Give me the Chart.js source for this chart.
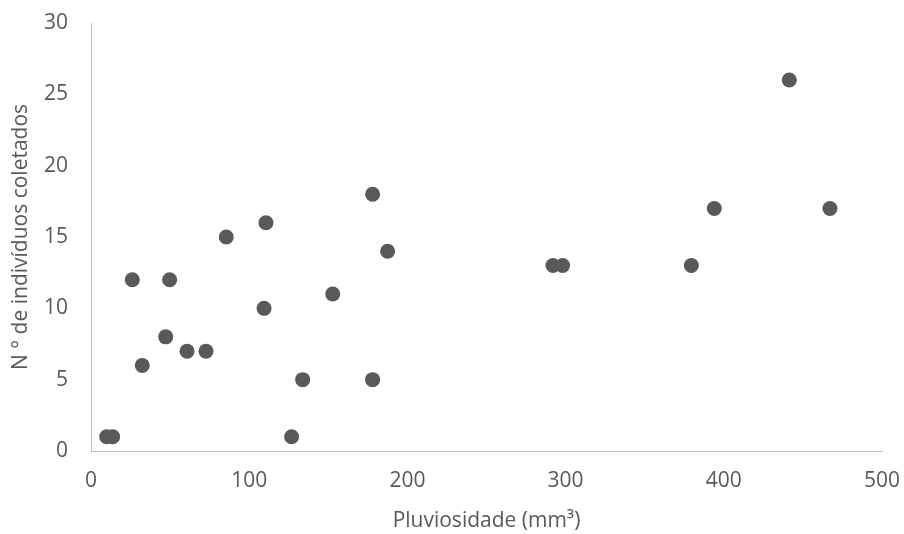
<!DOCTYPE html>
<html>
<head>
<meta charset="utf-8">
<script src="https://cdn.jsdelivr.net/npm/chart.js@4/dist/chart.umd.min.js"></script>
<style>
  body { margin: 0; background: #fff; }
  canvas { display: block; }
</style>
</head>
<body>
<canvas id="myChart" width="904" height="534"></canvas>
<script>
// Pluviosidade x número de indivíduos coletados
const chuva = [9.9, 13.7, 26.1, 32.4, 47.2, 49.7, 60.7, 72.7, 85.5, 109.4, 110.6, 126.8,
  133.8, 152.8, 178, 178, 187.5, 292, 298.1, 379.5, 394, 441.4, 467.1];
const individuos = [1, 1, 12, 6, 8, 12, 7, 7, 15, 10, 16, 1,
  5, 11, 5, 18, 14, 13, 13, 13, 17, 26, 17];

const xTicks = [0, 100, 200, 300, 400, 500];
const yTicks = [0, 5, 10, 15, 20, 25, 30];

const pontos = chuva.map((x, i) => ({ x: x, y: individuos[i] }));

const cinza = "#595959";
const eixo = "#bfbfbf";
const fonte = { family: "'Open Sans', sans-serif", size: 21 };

const ctx = document.getElementById("myChart").getContext("2d");

new Chart(ctx, {
  type: "scatter",
  data: {
    datasets: [
      {
        label: "Indivíduos",
        data: pontos,
        backgroundColor: cinza,
        borderColor: cinza,
        borderWidth: 0,
        pointRadius: 7.5,
        pointHoverRadius: 7.5,
      },
    ],
  },
  options: {
    responsive: false,
    animation: false,
    layout: {
      padding: { top: 23, right: 22, left: 0, bottom: 0 },
    },
    plugins: {
      legend: { display: false },
      tooltip: { enabled: false },
    },
    scales: {
      x: {
        type: "linear",
        min: 0,
        max: 500,
        afterBuildTicks: (scale) => {
          scale.ticks = xTicks.map((v) => ({ value: v }));
        },
        afterFit: (scale) => {
          scale.height = 83;
          scale.paddingLeft = 0;
          scale.paddingRight = 0;
        },
        grid: { display: false },
        border: { display: true, color: eixo, width: 1 },
        ticks: { color: cinza, padding: 9, font: fonte },
        title: {
          display: true,
          text: "Pluviosidade (mm³)",
          color: cinza,
          font: fonte,
          padding: { top: 2, bottom: 0 },
        },
      },
      y: {
        type: "linear",
        min: 0,
        max: 30,
        afterBuildTicks: (scale) => {
          scale.ticks = yTicks.map((v) => ({ value: v }));
        },
        afterFit: (scale) => {
          scale.width = 91;
          scale.paddingTop = 0;
          scale.paddingBottom = 0;
        },
        grid: { display: false },
        border: { display: true, color: eixo, width: 1 },
        ticks: { color: cinza, padding: 15, font: fonte },
        title: {
          display: true,
          text: "N ° de indivíduos coletados",
          color: cinza,
          font: fonte,
          padding: { top: 8, bottom: 0 },
        },
      },
    },
  },
});
</script>
</body>
</html>
